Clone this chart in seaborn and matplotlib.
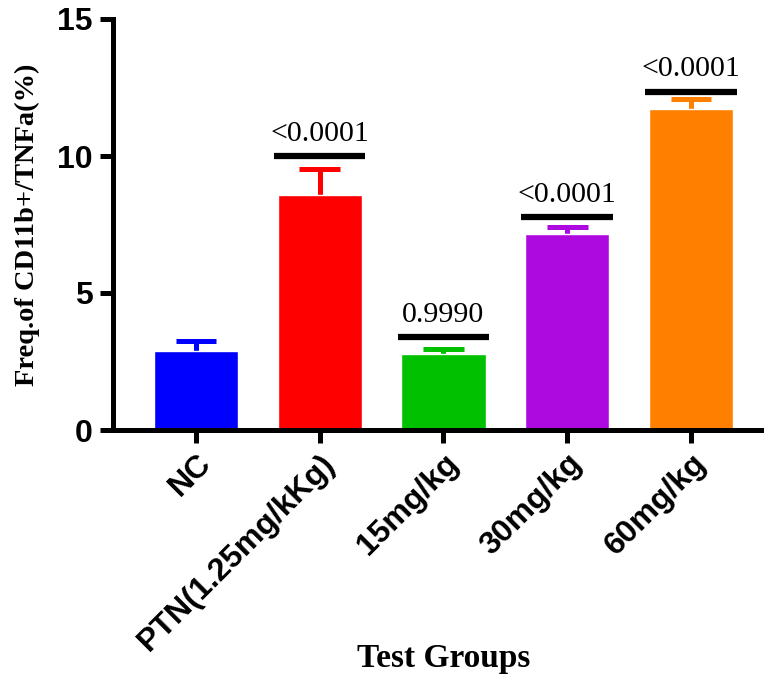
import matplotlib
matplotlib.use("Agg")
import matplotlib.pyplot as plt
import seaborn as sns
import pandas as pd

groups = ["NC", "PTN(1.25mg/kKg)", "15mg/kg", "30mg/kg", "60mg/kg"]
means = [2.89, 8.58, 2.77, 7.15, 11.73]
errors = [0.34, 0.95, 0.19, 0.26, 0.35]
colors = ["#0000FF", "#FF0000", "#00C000", "#AD0AE0", "#FF8000"]
p_labels = [None, "<0.0001", "0.9990", "<0.0001", "<0.0001"]
p_heights = [None, 10.0, 3.4, 7.78, 12.35]

sns.set_style("ticks")
plt.rcParams["text.color"] = "black"
plt.rcParams["axes.labelcolor"] = "black"

df = pd.DataFrame({"group": groups, "freq": means})

fig = plt.figure(figsize=(7.64, 6.74), dpi=100)
ax = fig.add_axes([113 / 764, 1 - 430 / 674, 1 - 113 / 764, (430 - 19) / 674])

sns.barplot(data=df, x="group", y="freq", hue="group", palette=colors,
            order=groups, hue_order=groups, legend=False, width=0.68,
            errorbar=None, saturation=1, ax=ax, zorder=2)

# upper-only error bars (SEM) in each bar's colour
cap_half = 0.165
for i, (m, e, c) in enumerate(zip(means, errors, colors)):
    ax.vlines(i, m - 0.1, m + e, color=c, linewidth=3.6, zorder=1)
    ax.hlines(m + e, i - cap_half, i + cap_half, color=c, linewidth=3.6, zorder=1)

# significance bars with p-values
for i, (lab, h) in enumerate(zip(p_labels, p_heights)):
    if lab is None:
        continue
    ax.hlines(h, i - 0.37, i + 0.37, color="black", linewidth=4.5, zorder=3)
    ax.annotate(lab, (i, h), xytext=(0, 11), textcoords="offset points",
                ha="center", va="baseline", fontsize=21.5,
                family="Liberation Serif", color="black")

ax.set_ylim(0, 15)
ax.set_xlim(-0.67, 4.59)
ax.set_yticks([0, 5, 10, 15])
sns.despine(ax=ax)
for side in ("left", "bottom"):
    ax.spines[side].set_linewidth(3.6)
    ax.spines[side].set_color("black")
ax.tick_params(axis="both", width=3.6, length=9.5, color="black",
               labelcolor="black")
ax.tick_params(axis="y", pad=5)

for t in ax.get_yticklabels():
    t.set_fontfamily("Liberation Sans")
    t.set_fontweight("bold")
    t.set_fontsize(23)
ax.set_xticks(range(len(groups)))
ax.set_xticklabels(groups, rotation=45, ha="right", rotation_mode="anchor",
                   fontfamily="Liberation Sans", fontweight="bold", fontsize=23)

ax.set_ylabel("Freq.of CD11b+/TNFa(%)", fontfamily="Liberation Serif",
              fontweight="bold", fontsize=20.5, color="black")
ax.yaxis.set_label_coords((40 - 113) / 651, 0.5)
ax.set_xlabel("")
fig.text(444 / 764, 1 - 667 / 674, "Test Groups", ha="center", va="baseline",
         fontfamily="Liberation Serif", fontweight="bold", fontsize=24,
         color="black")

fig.savefig("out.png", dpi=100)
